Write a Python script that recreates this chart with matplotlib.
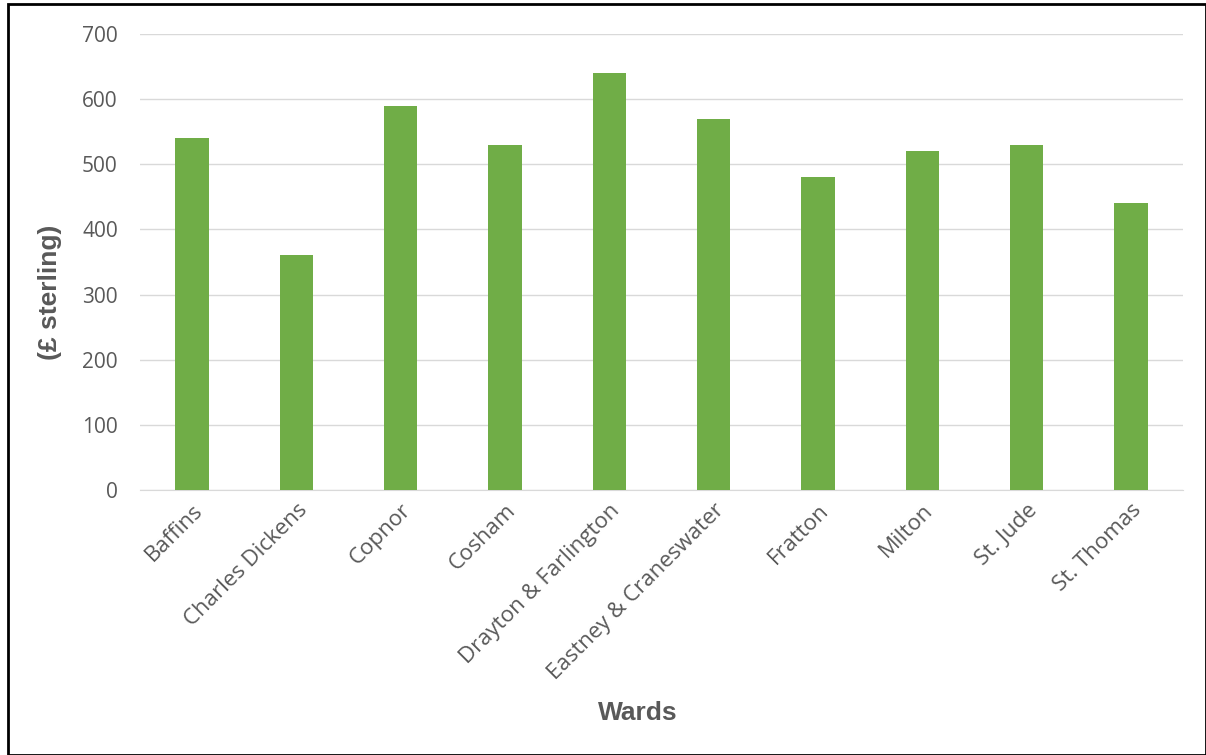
import matplotlib.pyplot as plt
from matplotlib.patches import Rectangle

wards = ['Baffins', 'Charles Dickens', 'Copnor', 'Cosham', 'Drayton & Farlington',
         'Eastney & Craneswater', 'Fratton', 'Milton', 'St. Jude', 'St. Thomas']
pay = [540, 360, 590, 530, 640, 570, 480, 520, 530, 440]
yticks = [0, 100, 200, 300, 400, 500, 600, 700]

W, H = 1206, 755
fig = plt.figure(figsize=(W / 100, H / 100), dpi=100)

# plot area in pixels
left, right, top, bottom = 140, 1183, 34, 490
ax = fig.add_axes([left / W, 1 - bottom / H, (right - left) / W, (bottom - top) / H])

x = range(len(wards))
ax.bar(x, pay, width=0.32, color='#70AD47', zorder=3)
ax.set_xlim(-0.5, len(wards) - 0.5)
ax.set_ylim(0, 700)
ax.set_yticks(yticks)
ax.set_xticks(list(x))
ax.set_xticklabels(wards, rotation=45, ha='right', rotation_mode='anchor',
                   fontsize=16, color='#595959', family='Open Sans')
ax.tick_params(axis='x', length=0, pad=7)
ax.tick_params(axis='y', length=0, pad=16, labelsize=15, labelcolor='#595959')
for lab in ax.get_yticklabels():
    lab.set_family('Open Sans')
ax.grid(axis='y', color='#D9D9D9', linewidth=1, zorder=0)
for s in ['top', 'right', 'left']:
    ax.spines[s].set_visible(False)
ax.spines['bottom'].set_color('#D9D9D9')

fig.text(638 / W, 1 - 713 / H, 'Wards', ha='center', va='center',
         fontsize=19, fontweight='bold', color='#595959', family='Liberation Sans')
fig.text(50 / W, 1 - 292 / H, '(£ sterling)', ha='center', va='center', rotation=90,
         fontsize=19, fontweight='bold', color='#595959', family='Liberation Sans')

# outer frame
fig.patches.append(Rectangle((8 / W, 0), (W - 8) / W, 1 - 4 / H, transform=fig.transFigure,
                             fill=False, edgecolor='black', linewidth=2))

fig.savefig('out.png', dpi=100)
